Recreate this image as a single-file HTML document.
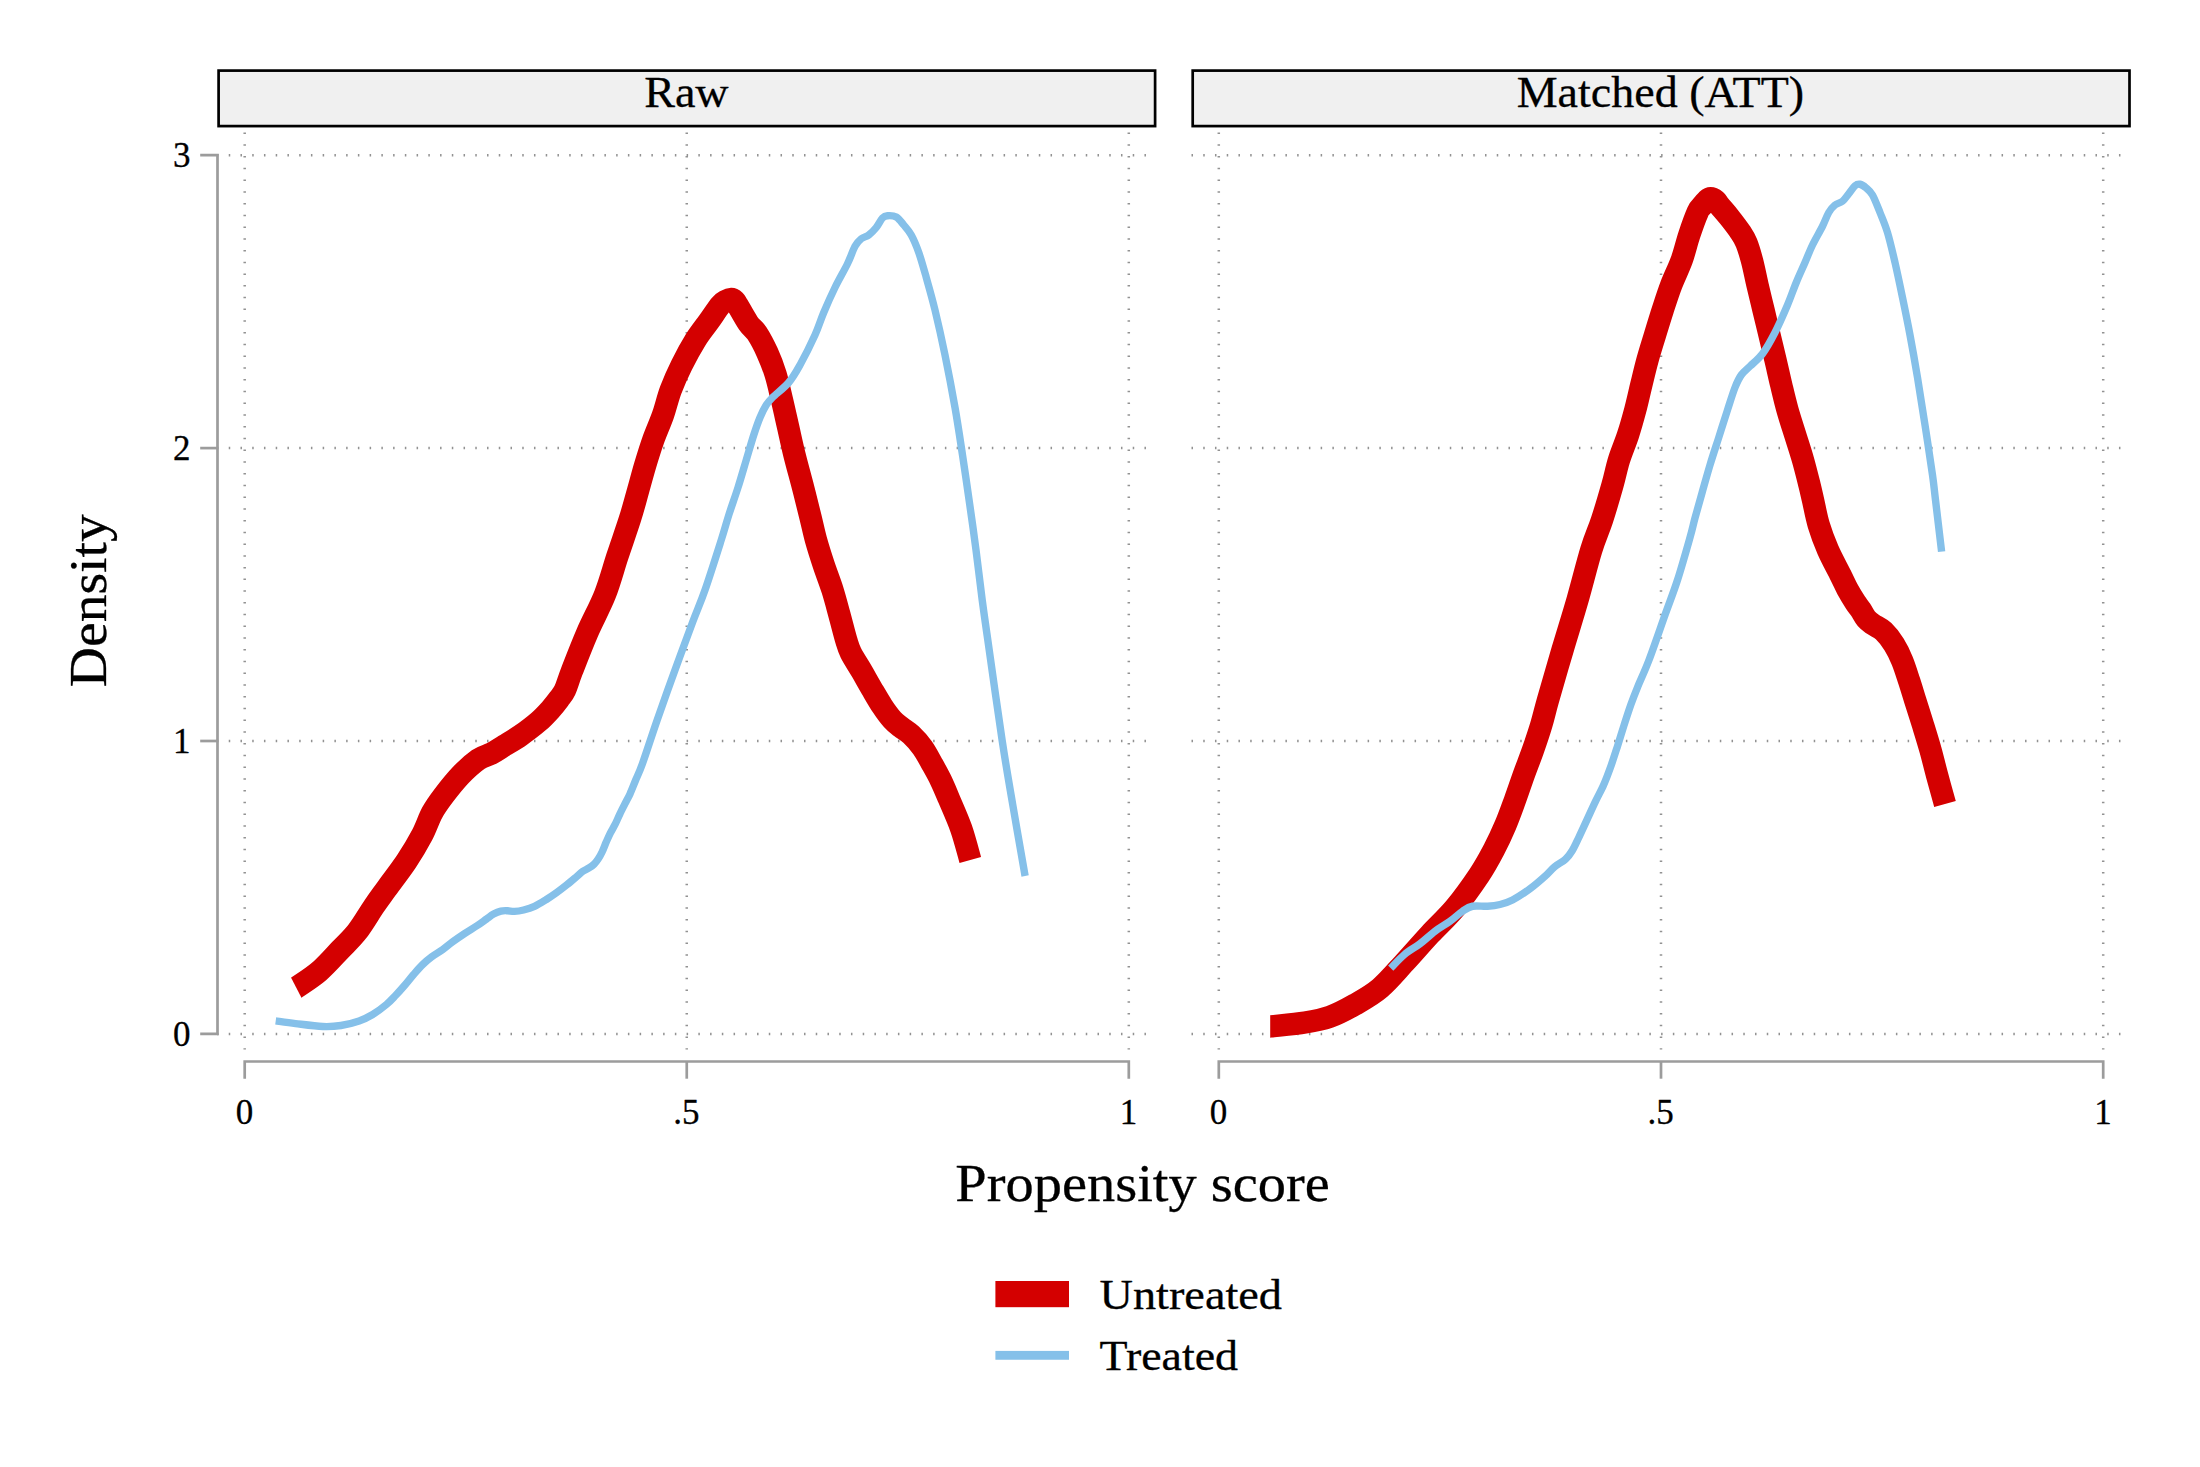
<!DOCTYPE html>
<html lang="en"><head><meta charset="utf-8"><title>Propensity score density: Raw vs Matched (ATT)</title>
<style>html,body{margin:0;padding:0;background:#fff;}body{width:2200px;height:1467px;overflow:hidden;}svg{display:block;}text{font-family:'Liberation Serif', 'DejaVu Serif', serif;fill:#000;stroke:#000;stroke-width:0.3px;stroke-linejoin:round;}</style></head><body>
<svg width="2200" height="1467" viewBox="0 0 2200 1467">
<rect x="0" y="0" width="2200" height="1467" fill="#ffffff"/>
<rect x="218.60" y="70.6" width="936.50" height="55.5" fill="#f0f0f0" stroke="#000" stroke-width="2.7"/>
<text x="686.40" y="107.1" font-size="45" text-anchor="middle" textLength="84.5" lengthAdjust="spacingAndGlyphs">Raw</text>
<g stroke="#929292" stroke-width="2.5" stroke-dasharray="1.50 10.24" fill="none">
<line x1="217.00" y1="155.15" x2="1155.20" y2="155.15"/>
<line x1="217.00" y1="448.10" x2="1155.20" y2="448.10"/>
<line x1="217.00" y1="741.00" x2="1155.20" y2="741.00"/>
<line x1="217.00" y1="1033.90" x2="1155.20" y2="1033.90"/>
<line x1="244.70" y1="132.50" x2="244.70" y2="1049.60"/>
<line x1="686.75" y1="132.50" x2="686.75" y2="1049.60"/>
<line x1="1128.80" y1="132.50" x2="1128.80" y2="1049.60"/>
</g>
<g stroke="#9c9c9c" stroke-width="2.7" fill="none">
<path d="M244.70 1078.7 V1061.5 H1128.80 V1078.7"/>
<line x1="686.75" y1="1061.5" x2="686.75" y2="1078.7"/>
</g>
<text x="244.40" y="1124.2" font-size="35" text-anchor="middle">0</text>
<text x="686.45" y="1124.2" font-size="35" text-anchor="middle">.5</text>
<text x="1128.50" y="1124.2" font-size="35" text-anchor="middle">1</text>
<rect x="1192.70" y="70.6" width="936.80" height="55.5" fill="#f0f0f0" stroke="#000" stroke-width="2.7"/>
<text x="1660.40" y="107.1" font-size="45" text-anchor="middle" textLength="287.5" lengthAdjust="spacingAndGlyphs">Matched (ATT)</text>
<g stroke="#929292" stroke-width="2.5" stroke-dasharray="1.50 10.24" fill="none">
<line x1="1191.50" y1="155.15" x2="2130.00" y2="155.15"/>
<line x1="1191.50" y1="448.10" x2="2130.00" y2="448.10"/>
<line x1="1191.50" y1="741.00" x2="2130.00" y2="741.00"/>
<line x1="1191.50" y1="1033.90" x2="2130.00" y2="1033.90"/>
<line x1="1218.80" y1="132.50" x2="1218.80" y2="1049.60"/>
<line x1="1661.00" y1="132.50" x2="1661.00" y2="1049.60"/>
<line x1="2103.20" y1="132.50" x2="2103.20" y2="1049.60"/>
</g>
<g stroke="#9c9c9c" stroke-width="2.7" fill="none">
<path d="M1218.80 1078.7 V1061.5 H2103.20 V1078.7"/>
<line x1="1661.00" y1="1061.5" x2="1661.00" y2="1078.7"/>
</g>
<text x="1218.50" y="1124.2" font-size="35" text-anchor="middle">0</text>
<text x="1660.70" y="1124.2" font-size="35" text-anchor="middle">.5</text>
<text x="2102.90" y="1124.2" font-size="35" text-anchor="middle">1</text>
<g stroke="#9c9c9c" stroke-width="2.7" fill="none">
<path d="M200.2 155.15 H217.5 V1033.90 H200.2"/>
<line x1="200.2" y1="448.10" x2="217.5" y2="448.10"/>
<line x1="200.2" y1="741.00" x2="217.5" y2="741.00"/>
</g>
<text x="190.6" y="167.05" font-size="35" text-anchor="end">3</text>
<text x="190.6" y="460.00" font-size="35" text-anchor="end">2</text>
<text x="190.6" y="752.90" font-size="35" text-anchor="end">1</text>
<text x="190.6" y="1045.80" font-size="35" text-anchor="end">0</text>
<defs><clipPath id="c1"><polygon points="260.2,918 332.65,1058 1200,1058 1200,100 260.2,100"/></clipPath><clipPath id="c2"><rect x="1270.2" y="100" width="900" height="1000"/></clipPath></defs>
<path d="M291.40 991.30 C292.21 990.71 291.65 991.05 296.25 987.75 C300.85 984.45 311.67 977.83 319.00 971.50 C326.33 965.17 333.88 956.42 340.25 949.75 C346.62 943.08 351.62 938.75 357.25 931.50 C362.88 924.25 369.12 913.38 374.00 906.25 C378.88 899.12 381.08 896.25 386.50 888.75 C391.92 881.25 400.58 870.17 406.50 861.25 C412.42 852.33 417.71 843.38 422.00 835.25 C426.29 827.12 428.62 819.12 432.25 812.50 C435.88 805.88 439.00 801.75 443.75 795.50 C448.50 789.25 455.00 781.00 460.75 775.00 C466.50 769.00 473.12 763.08 478.25 759.50 C483.38 755.92 487.14 755.82 491.50 753.50 C495.86 751.18 499.57 748.60 504.40 745.60 C509.23 742.60 514.77 739.53 520.50 735.50 C526.23 731.47 533.75 725.78 538.80 721.40 C543.85 717.02 547.43 712.93 550.80 709.20 C554.17 705.47 556.63 702.20 559.00 699.00 C561.37 695.80 562.83 694.70 565.00 690.00 C567.17 685.30 568.28 680.35 572.00 670.80 C575.72 661.25 581.80 645.42 587.30 632.70 C592.80 619.98 599.98 607.23 605.00 594.50 C610.02 581.77 613.20 569.02 617.40 556.30 C621.60 543.58 626.73 529.25 630.20 518.20 C633.68 507.15 635.74 498.87 638.25 490.00 C640.76 481.13 642.75 473.33 645.25 465.00 C647.75 456.67 650.29 448.33 653.25 440.00 C656.21 431.67 660.08 423.33 663.00 415.00 C665.92 406.67 667.62 398.33 670.75 390.00 C673.88 381.67 677.62 373.33 681.75 365.00 C685.88 356.67 691.00 347.25 695.50 340.00 C700.00 332.75 704.62 327.29 708.75 321.50 C712.88 315.71 717.46 308.67 720.25 305.25 C723.04 301.83 723.67 302.04 725.50 301.00 C727.33 299.96 729.71 299.04 731.25 299.00 C732.79 298.96 733.71 299.75 734.75 300.75 C735.79 301.75 735.25 301.25 737.50 305.00 C739.75 308.75 745.00 318.54 748.25 323.25 C751.50 327.96 753.83 328.38 757.00 333.25 C760.17 338.12 764.17 345.71 767.25 352.50 C770.33 359.29 773.04 366.08 775.50 374.00 C777.96 381.92 779.88 391.08 782.00 400.00 C784.12 408.92 786.17 418.33 788.25 427.50 C790.33 436.67 792.04 445.04 794.50 455.00 C796.96 464.96 800.33 476.88 803.00 487.25 C805.67 497.62 808.33 508.46 810.50 517.25 C812.67 526.04 813.79 532.04 816.00 540.00 C818.21 547.96 821.00 556.67 823.75 565.00 C826.50 573.33 829.88 581.67 832.50 590.00 C835.12 598.33 837.22 606.67 839.50 615.00 C841.78 623.33 844.30 633.65 846.20 640.00 C848.10 646.35 848.32 647.90 850.90 653.10 C853.48 658.30 858.27 665.33 861.70 671.20 C865.13 677.07 868.08 682.48 871.50 688.30 C874.92 694.12 878.73 700.88 882.20 706.10 C885.67 711.32 889.20 716.12 892.30 719.60 C895.40 723.08 897.67 724.48 900.80 727.00 C903.93 729.52 907.48 731.27 911.10 734.70 C914.72 738.13 919.05 742.82 922.50 747.60 C925.95 752.38 928.77 758.00 931.80 763.40 C934.83 768.80 937.87 774.15 940.70 780.00 C943.53 785.85 945.38 790.38 948.80 798.50 C952.22 806.62 957.67 818.50 961.25 828.75 C964.83 839.00 968.79 854.79 970.30 860.00" fill="none" stroke="#d40000" stroke-width="22.40" stroke-linejoin="round" stroke-linecap="butt" clip-path="url(#c1)"/>
<path d="M275.70 1020.90 C279.00 1021.35 287.67 1022.67 295.50 1023.60 C303.33 1024.53 315.13 1026.18 322.70 1026.50 C330.27 1026.82 334.83 1026.43 340.90 1025.50 C346.97 1024.57 353.80 1022.73 359.10 1020.90 C364.40 1019.07 368.15 1017.23 372.70 1014.50 C377.25 1011.77 382.60 1007.67 386.40 1004.50 C390.20 1001.33 392.48 998.67 395.50 995.50 C398.52 992.33 401.48 989.00 404.50 985.50 C407.52 982.00 410.57 978.00 413.60 974.50 C416.63 971.00 419.67 967.45 422.70 964.50 C425.73 961.55 428.50 959.25 431.80 956.80 C435.10 954.35 439.02 952.30 442.50 949.80 C445.98 947.30 449.03 944.50 452.70 941.80 C456.37 939.10 460.40 936.32 464.50 933.60 C468.60 930.88 473.65 927.92 477.30 925.50 C480.95 923.08 483.68 921.00 486.40 919.10 C489.12 917.20 491.18 915.43 493.60 914.10 C496.02 912.77 498.62 911.67 500.90 911.10 C503.18 910.53 505.03 910.65 507.30 910.70 C509.57 910.75 511.78 911.52 514.50 911.40 C517.22 911.28 520.27 910.83 523.60 910.00 C526.93 909.17 530.70 908.15 534.50 906.40 C538.30 904.65 542.75 901.77 546.40 899.50 C550.05 897.23 552.97 895.27 556.40 892.80 C559.83 890.33 563.60 887.42 567.00 884.70 C570.40 881.98 574.22 878.68 576.80 876.50 C579.38 874.32 580.47 873.03 582.50 871.60 C584.53 870.17 587.08 869.13 589.00 867.90 C590.92 866.67 592.50 865.63 594.00 864.20 C595.50 862.77 596.65 861.33 598.00 859.30 C599.35 857.27 600.73 854.87 602.10 852.00 C603.47 849.13 604.83 845.25 606.20 842.10 C607.57 838.95 608.80 836.08 610.30 833.10 C611.80 830.12 613.63 827.33 615.20 824.20 C616.77 821.07 618.07 817.72 619.70 814.30 C621.33 810.88 623.28 807.10 625.00 803.70 C626.72 800.30 628.22 797.85 630.00 793.90 C631.78 789.95 633.62 785.07 635.70 780.00 C637.78 774.93 638.92 773.50 642.50 763.50 C646.08 753.50 651.78 735.58 657.20 720.00 C662.62 704.42 669.12 686.25 675.00 670.00 C680.88 653.75 687.50 635.83 692.50 622.50 C697.50 609.17 700.21 603.75 705.00 590.00 C709.79 576.25 717.28 552.50 721.25 540.00 C725.22 527.50 726.01 523.75 728.80 515.00 C731.59 506.25 735.09 496.67 738.00 487.50 C740.91 478.33 743.62 468.75 746.25 460.00 C748.88 451.25 751.46 442.08 753.75 435.00 C756.04 427.92 757.92 422.50 760.00 417.50 C762.08 412.50 764.17 408.33 766.25 405.00 C768.33 401.67 768.75 401.25 772.50 397.50 C776.25 393.75 784.17 387.92 788.75 382.50 C793.33 377.08 795.62 372.92 800.00 365.00 C804.38 357.08 811.04 343.75 815.00 335.00 C818.96 326.25 820.42 320.42 823.75 312.50 C827.08 304.58 831.04 295.62 835.00 287.50 C838.96 279.38 844.17 270.62 847.50 263.75 C850.83 256.88 852.71 250.42 855.00 246.25 C857.29 242.08 858.96 240.62 861.25 238.75 C863.54 236.88 866.25 236.88 868.75 235.00 C871.25 233.12 873.96 230.33 876.25 227.50 C878.54 224.67 880.62 219.96 882.50 218.00 C884.38 216.04 885.21 215.92 887.50 215.75 C889.79 215.58 893.54 215.46 896.25 217.00 C898.96 218.54 901.25 222.00 903.75 225.00 C906.25 228.00 908.75 230.42 911.25 235.00 C913.75 239.58 916.25 245.42 918.75 252.50 C921.25 259.58 923.54 267.92 926.25 277.50 C928.96 287.08 931.88 297.08 935.00 310.00 C938.12 322.92 941.67 338.75 945.00 355.00 C948.33 371.25 952.08 390.83 955.00 407.50 C957.92 424.17 960.03 438.75 962.50 455.00 C964.97 471.25 967.55 489.17 969.80 505.00 C972.05 520.83 973.93 534.17 976.00 550.00 C978.07 565.83 980.23 585.00 982.20 600.00 C984.17 615.00 984.47 616.55 987.80 640.00 C991.13 663.45 998.05 713.28 1002.20 740.70 C1006.35 768.12 1008.88 781.95 1012.70 804.50 C1016.52 827.05 1023.03 864.08 1025.10 876.00" fill="none" stroke="#85c0e9" stroke-width="7.40" stroke-linejoin="round" stroke-linecap="butt"/>
<path d="M1264.00 1027.30 C1265.08 1027.17 1263.67 1027.30 1270.50 1026.50 C1277.33 1025.70 1295.08 1024.12 1305.00 1022.50 C1314.92 1020.88 1321.67 1019.75 1330.00 1016.75 C1338.33 1013.75 1346.67 1009.25 1355.00 1004.50 C1363.33 999.75 1371.67 995.33 1380.00 988.25 C1388.33 981.17 1396.67 971.00 1405.00 962.00 C1413.33 953.00 1421.67 943.25 1430.00 934.25 C1438.33 925.25 1446.79 917.88 1455.00 908.00 C1463.21 898.12 1472.79 884.67 1479.25 875.00 C1485.71 865.33 1489.38 858.33 1493.75 850.00 C1498.12 841.67 1501.96 833.33 1505.50 825.00 C1509.04 816.67 1511.96 808.33 1515.00 800.00 C1518.04 791.67 1520.75 783.33 1523.75 775.00 C1526.75 766.67 1530.08 758.33 1533.00 750.00 C1535.92 741.67 1538.75 733.33 1541.25 725.00 C1543.75 716.67 1544.46 712.50 1548.00 700.00 C1551.54 687.50 1557.58 666.67 1562.50 650.00 C1567.42 633.33 1572.71 616.67 1577.50 600.00 C1582.29 583.33 1587.17 563.33 1591.25 550.00 C1595.33 536.67 1598.46 530.83 1602.00 520.00 C1605.54 509.17 1609.67 495.00 1612.50 485.00 C1615.33 475.00 1616.42 468.33 1619.00 460.00 C1621.58 451.67 1625.29 443.33 1628.00 435.00 C1630.71 426.67 1633.04 418.33 1635.25 410.00 C1637.46 401.67 1639.21 393.33 1641.25 385.00 C1643.29 376.67 1645.21 368.33 1647.50 360.00 C1649.79 351.67 1652.46 343.33 1655.00 335.00 C1657.54 326.67 1660.04 318.33 1662.75 310.00 C1665.46 301.67 1668.08 293.33 1671.25 285.00 C1674.42 276.67 1678.75 268.33 1681.75 260.00 C1684.75 251.67 1686.59 242.98 1689.25 235.00 C1691.91 227.02 1695.53 217.00 1697.70 212.10 C1699.88 207.20 1700.85 207.48 1702.30 205.60 C1703.75 203.72 1705.02 202.02 1706.40 200.80 C1707.78 199.58 1709.03 198.32 1710.60 198.30 C1712.17 198.28 1714.32 199.48 1715.80 200.70 C1717.28 201.92 1717.20 202.78 1719.50 205.60 C1721.80 208.42 1726.10 213.17 1729.60 217.60 C1733.10 222.03 1737.68 227.97 1740.50 232.20 C1743.32 236.43 1744.55 238.13 1746.50 243.00 C1748.45 247.87 1750.37 254.40 1752.20 261.40 C1754.03 268.40 1755.62 276.90 1757.50 285.00 C1759.38 293.10 1761.50 301.67 1763.50 310.00 C1765.50 318.33 1767.50 326.67 1769.50 335.00 C1771.50 343.33 1773.54 351.67 1775.50 360.00 C1777.46 368.33 1779.25 376.67 1781.25 385.00 C1783.25 393.33 1785.17 401.67 1787.50 410.00 C1789.83 418.33 1792.67 426.67 1795.25 435.00 C1797.83 443.33 1800.62 451.67 1803.00 460.00 C1805.38 468.33 1807.83 478.33 1809.50 485.00 C1811.17 491.67 1811.46 493.33 1813.00 500.00 C1814.54 506.67 1816.25 516.67 1818.75 525.00 C1821.25 533.33 1824.38 541.67 1828.00 550.00 C1831.62 558.33 1837.27 568.48 1840.50 575.00 C1843.73 581.52 1844.90 584.50 1847.40 589.10 C1849.90 593.70 1853.28 599.15 1855.50 602.60 C1857.72 606.05 1858.90 607.10 1860.70 609.80 C1862.50 612.50 1864.22 616.35 1866.30 618.80 C1868.38 621.25 1870.32 622.43 1873.20 624.50 C1876.08 626.57 1880.12 627.87 1883.60 631.20 C1887.08 634.53 1891.00 639.58 1894.10 644.50 C1897.20 649.42 1899.68 654.60 1902.20 660.70 C1904.72 666.80 1907.02 674.43 1909.20 681.10 C1911.38 687.77 1913.00 693.38 1915.30 700.70 C1917.60 708.02 1920.47 716.78 1923.00 725.00 C1925.53 733.22 1928.17 741.67 1930.50 750.00 C1932.83 758.33 1934.58 766.00 1937.00 775.00 C1939.42 784.00 1943.67 799.17 1945.00 804.00" fill="none" stroke="#d40000" stroke-width="22.40" stroke-linejoin="round" stroke-linecap="butt" clip-path="url(#c2)"/>
<path d="M1390.70 968.20 C1393.00 965.92 1399.62 958.58 1404.50 954.50 C1409.38 950.42 1414.92 947.62 1420.00 943.75 C1425.08 939.88 1430.00 935.00 1435.00 931.25 C1440.00 927.50 1445.42 924.58 1450.00 921.25 C1454.58 917.92 1458.75 913.75 1462.50 911.25 C1466.25 908.75 1468.33 907.08 1472.50 906.25 C1476.67 905.42 1482.92 906.54 1487.50 906.25 C1492.08 905.96 1495.83 905.54 1500.00 904.50 C1504.17 903.46 1507.50 902.62 1512.50 900.00 C1517.50 897.38 1524.58 892.71 1530.00 888.75 C1535.42 884.79 1540.92 879.91 1545.00 876.25 C1549.08 872.59 1551.08 869.62 1554.50 866.80 C1557.92 863.97 1562.53 862.02 1565.50 859.30 C1568.47 856.58 1570.03 854.25 1572.30 850.50 C1574.57 846.75 1576.60 842.03 1579.10 836.80 C1581.60 831.57 1584.57 825.00 1587.30 819.10 C1590.03 813.20 1592.78 807.08 1595.50 801.40 C1598.22 795.72 1601.10 790.68 1603.60 785.00 C1606.10 779.32 1608.22 773.67 1610.50 767.30 C1612.78 760.93 1615.03 753.85 1617.30 746.80 C1619.57 739.75 1621.83 732.05 1624.10 725.00 C1626.37 717.95 1628.63 710.87 1630.90 704.50 C1633.17 698.13 1634.68 694.22 1637.70 686.80 C1640.72 679.38 1644.45 671.97 1649.00 660.00 C1653.55 648.03 1660.25 628.33 1665.00 615.00 C1669.75 601.67 1673.33 592.92 1677.50 580.00 C1681.67 567.08 1687.08 547.83 1690.00 537.50 C1692.92 527.17 1693.00 525.42 1695.00 518.00 C1697.00 510.58 1699.50 501.83 1702.00 493.00 C1704.50 484.17 1707.21 474.25 1710.00 465.00 C1712.79 455.75 1715.83 446.67 1718.75 437.50 C1721.67 428.33 1724.79 418.33 1727.50 410.00 C1730.21 401.67 1732.71 393.33 1735.00 387.50 C1737.29 381.67 1738.75 378.54 1741.25 375.00 C1743.75 371.46 1746.46 369.79 1750.00 366.25 C1753.54 362.71 1758.33 359.38 1762.50 353.75 C1766.67 348.12 1770.83 340.62 1775.00 332.50 C1779.17 324.38 1783.96 313.33 1787.50 305.00 C1791.04 296.67 1793.33 289.58 1796.25 282.50 C1799.17 275.42 1802.29 268.75 1805.00 262.50 C1807.71 256.25 1809.58 251.04 1812.50 245.00 C1815.42 238.96 1819.79 231.67 1822.50 226.25 C1825.21 220.83 1826.67 216.04 1828.75 212.50 C1830.83 208.96 1832.71 206.88 1835.00 205.00 C1837.29 203.12 1840.21 203.12 1842.50 201.25 C1844.79 199.38 1846.67 196.33 1848.75 193.75 C1850.83 191.17 1853.12 187.33 1855.00 185.75 C1856.88 184.17 1858.12 183.88 1860.00 184.25 C1861.88 184.62 1864.17 186.21 1866.25 188.00 C1868.33 189.79 1870.21 190.92 1872.50 195.00 C1874.79 199.08 1877.50 206.25 1880.00 212.50 C1882.50 218.75 1885.00 224.17 1887.50 232.50 C1890.00 240.83 1892.50 251.67 1895.00 262.50 C1897.50 273.33 1900.00 285.42 1902.50 297.50 C1905.00 309.58 1907.50 321.67 1910.00 335.00 C1912.50 348.33 1915.00 362.50 1917.50 377.50 C1920.00 392.50 1922.50 408.75 1925.00 425.00 C1927.50 441.25 1930.75 462.50 1932.50 475.00 C1934.25 487.50 1933.98 487.23 1935.50 500.00 C1937.02 512.77 1940.58 543.00 1941.60 551.60" fill="none" stroke="#85c0e9" stroke-width="7.40" stroke-linejoin="round" stroke-linecap="butt"/>
<text x="1142.6" y="1201.2" font-size="53.5" text-anchor="middle" textLength="374.5" lengthAdjust="spacingAndGlyphs">Propensity score</text>
<text transform="translate(105.7 600.7) rotate(-90)" font-size="53.5" text-anchor="middle" textLength="173" lengthAdjust="spacingAndGlyphs">Density</text>
<rect x="995.4" y="1281" width="73.6" height="26.2" fill="#d40000"/>
<rect x="995.4" y="1350.9" width="73.6" height="8.85" fill="#85c0e9"/>
<text x="1099.5" y="1309" font-size="42.5" textLength="182.5" lengthAdjust="spacingAndGlyphs">Untreated</text>
<text x="1099.5" y="1370" font-size="42.5" textLength="138.5" lengthAdjust="spacingAndGlyphs">Treated</text>
</svg></body></html>
